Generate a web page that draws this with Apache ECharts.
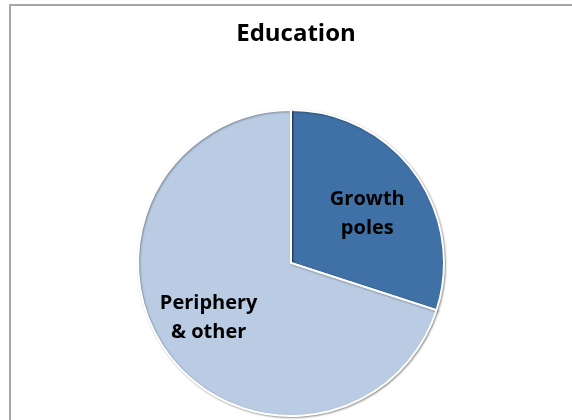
<!DOCTYPE html>
<html>
<head>
<meta charset="utf-8">
<script src="https://cdn.jsdelivr.net/npm/echarts@6/dist/echarts.min.js"></script>
<style>
  html, body { margin: 0; padding: 0; background: #fff; overflow: hidden; }
  #chart { width: 572px; height: 420px; }
</style>
</head>
<body>
<div id="chart"></div>
<script>
// Share of education spending by area
const categories = ['Growth\npoles', 'Periphery\n& other'];
const shares = [30, 70];
const sliceColors = ['#3F71A7', '#B9CCE4'];
// Nudges for the in-slice labels
const labelShift = [[12, -2], [-18, 8]];

const chart = echarts.init(document.getElementById('chart'), null, { renderer: 'canvas' });

chart.setOption({
  backgroundColor: '#ffffff',
  animation: false,
  title: {
    text: 'Education',
    left: 291,
    top: 17,
    textAlign: 'center',
    textStyle: {
      fontFamily: 'Open Sans',
      fontWeight: 'bold',
      fontSize: 24,
      color: '#000'
    }
  },
  graphic: [{
    type: 'rect',
    shape: { x: 10, y: 5, width: 600, height: 500 },
    style: { fill: 'none', stroke: '#a6a6a6', lineWidth: 2 },
    silent: true
  }],
  series: [{
    type: 'pie',
    center: [291, 263],
    radius: [0, 153],
    startAngle: 90,
    clockwise: true,
    data: categories.map((name, i) => ({
      name,
      value: shares[i],
      itemStyle: { color: sliceColors[i] }
    })),
    itemStyle: {
      borderColor: '#ffffff',
      borderWidth: 2,
      shadowColor: 'rgba(0,0,0,0.35)',
      shadowBlur: 2,
      shadowOffsetX: 1,
      shadowOffsetY: 1
    },
    label: {
      show: true,
      position: 'inside',
      formatter: '{b}',
      fontFamily: 'Open Sans',
      fontWeight: 'bold',
      fontSize: 20,
      lineHeight: 29,
      color: '#000'
    },
    labelLine: { show: false },
    labelLayout: (params) => ({
      dx: labelShift[params.dataIndex][0],
      dy: labelShift[params.dataIndex][1]
    }),
    emphasis: { disabled: true }
  }]
});
</script>
</body>
</html>
